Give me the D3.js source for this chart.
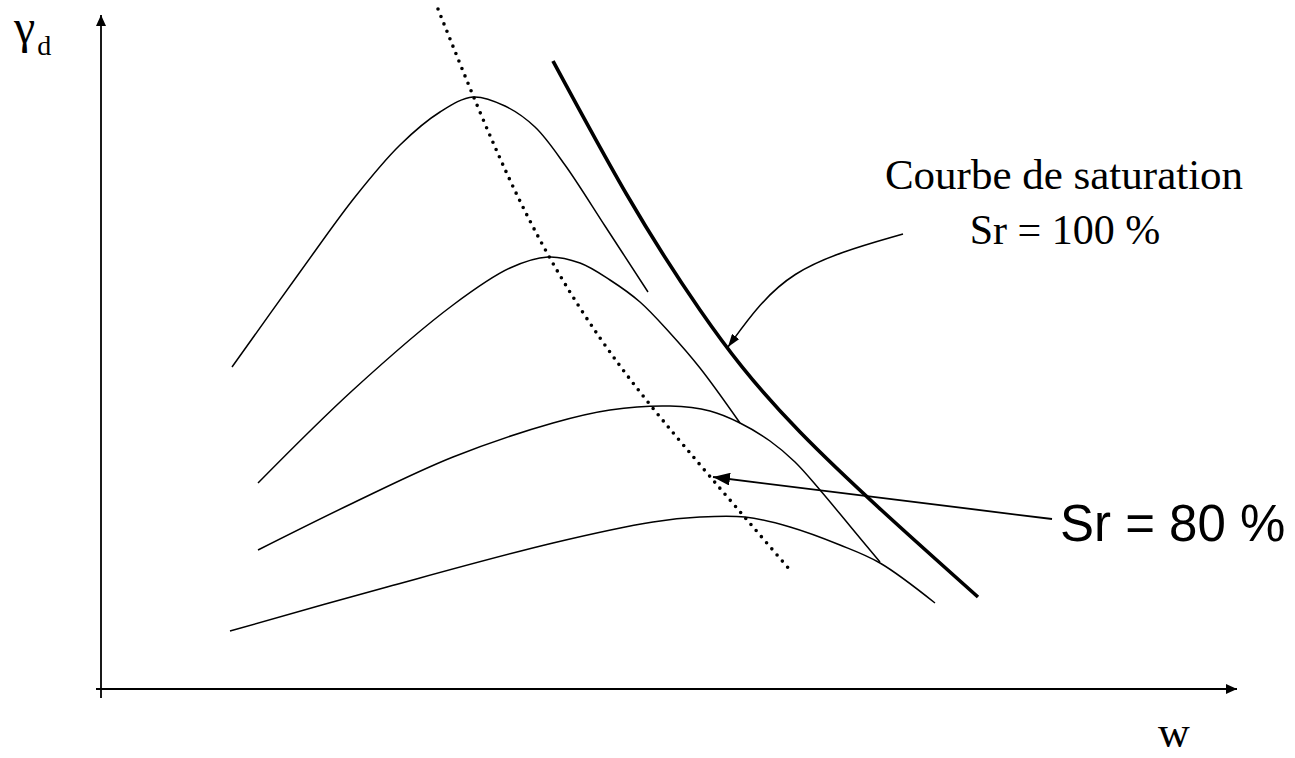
<!DOCTYPE html>
<html>
<head>
<meta charset="utf-8">
<script src="https://cdn.jsdelivr.net/npm/d3@7"></script>
<style>
  html, body { margin: 0; padding: 0; background: #fff; }
  svg { display: block; }
</style>
</head>
<body>
<script>
// ---- data (w = water content, gd = dry unit weight, arbitrary units) ----
const curve1W  = [13.1, 19.9, 25.4, 29.9, 33.9, 37.2, 40.4, 43.4, 46.4, 50.4, 54.7];
const curve1Gd = [32.2, 41.7, 49.2, 54.4, 57.7, 59.2, 58.3, 56.2, 52.4, 46.3, 39.7];

const curve2W  = [15.7, 25.2, 35.2, 40.9, 44.7, 47.9, 50.9, 53.9, 56.9, 59.9, 63.9];
const curve2Gd = [20.6, 29.9, 38.4, 42.1, 43.2, 42.6, 40.9, 38.7, 35.6, 32.1, 26.6];

const curve3W  = [15.7, 25.2, 35.2, 45.2, 50.9, 56.9, 60.9, 63.9, 66.9, 69.4, 71.9, 74.9, 77.9];
const curve3Gd = [13.9, 18.6, 23.2, 26.6, 27.9, 28.3, 27.8, 26.6, 24.8, 22.7, 19.9, 16.3, 12.7];

const curve4W  = [12.9, 28.6, 45.2, 55.2, 59.9, 64.4, 68.9, 73.9, 77.9, 83.4];
const curve4Gd = [5.8, 10.2, 14.6, 16.7, 17.2, 17.2, 16.2, 14.4, 12.6, 8.6];

const saturationW  = [45.2, 52.6, 59.9, 69.9, 87.7];
const saturationGd = [62.8, 49.4, 37.9, 25.7, 9.2];

const sr80W  = [33.7, 41.7, 49.9, 58.4, 68.9];
const sr80Gd = [68.0, 49.2, 35.1, 24.2, 11.9];

const satArrowW  = [80.2, 73.9, 69.2, 65.9, 62.7];
const satArrowGd = [45.5, 43.7, 41.6, 38.6, 34.2];

const sr80ArrowW  = [95.1, 61.2];
const sr80ArrowGd = [17.0, 21.2];

const labels = {
  yAxis: "γ", ySub: "d", xAxis: "w",
  sat1: "Courbe de saturation", sat2: "Sr = 100 %",
  sr80: "Sr = 80 %"
};

// ---- layout ----
const W = 1295, H = 758;
const svg = d3.select("body").append("svg").attr("width", W).attr("height", H);

const x = d3.scaleLinear().domain([0, 114]).range([101, 1241]);
const y = d3.scaleLinear().domain([0, 67.5]).range([689, 14]);

const defs = svg.append("defs");
function marker(id, len, wid) {
  defs.append("marker").attr("id", id)
    .attr("viewBox", `0 0 ${len} ${wid}`)
    .attr("refX", len).attr("refY", wid / 2)
    .attr("markerWidth", len).attr("markerHeight", wid)
    .attr("markerUnits", "userSpaceOnUse")
    .attr("orient", "auto")
    .append("path").attr("d", `M0,0 L${len},${wid/2} L0,${wid} Z`).attr("fill", "#000");
}
marker("axisArrow", 11, 10);
marker("bigArrow", 17, 13);
marker("smallArrow", 13, 9);

const zip = (a, b) => a.map((v, i) => [v, b[i]]);
const line = d3.line().x(d => x(d[0])).y(d => y(d[1])).curve(d3.curveCatmullRom.alpha(0.5));
const smooth = d3.line().x(d => x(d[0])).y(d => y(d[1])).curve(d3.curveNatural);

// axes
svg.append("line")
  .attr("x1", x(0)).attr("y1", y(0) + 9)
  .attr("x2", x(0)).attr("y2", y(67.5) + 1)
  .attr("stroke", "#000").attr("stroke-width", 1.8)
  .attr("marker-end", "url(#axisArrow)");
svg.append("line")
  .attr("x1", x(0) - 5).attr("y1", y(0))
  .attr("x2", x(113.6)).attr("y2", y(0))
  .attr("stroke", "#000").attr("stroke-width", 1.8)
  .attr("marker-end", "url(#axisArrow)");

// compaction curves
[[curve1W, curve1Gd], [curve2W, curve2Gd], [curve3W, curve3Gd], [curve4W, curve4Gd]].forEach(([a, b]) => {
  svg.append("path").attr("d", line(zip(a, b)))
    .attr("fill", "none").attr("stroke", "#000").attr("stroke-width", 1.5);
});

// saturation curve
svg.append("path").attr("d", smooth(zip(saturationW, saturationGd)))
  .attr("fill", "none").attr("stroke", "#000").attr("stroke-width", 3.6);

// Sr = 80 % dotted line
svg.append("path").attr("d", smooth(zip(sr80W, sr80Gd)))
  .attr("fill", "none").attr("stroke", "#000").attr("stroke-width", 3.6)
  .attr("stroke-linecap", "round").attr("stroke-dasharray", "0 8");

// annotation arrows
svg.append("path").attr("d", d3.line().x(d => x(d[0])).y(d => y(d[1])).curve(d3.curveBasis)(zip(satArrowW, satArrowGd)))
  .attr("fill", "none").attr("stroke", "#000").attr("stroke-width", 1.5)
  .attr("marker-end", "url(#smallArrow)");
svg.append("path").attr("d", d3.line().x(d => x(d[0])).y(d => y(d[1]))(zip(sr80ArrowW, sr80ArrowGd)))
  .attr("fill", "none").attr("stroke", "#000").attr("stroke-width", 1.8)
  .attr("marker-end", "url(#bigArrow)");

// labels
const serif = "'Liberation Serif', 'Times New Roman', serif";
const sans = "'Liberation Sans', Arial, sans-serif";
const yl = svg.append("text").attr("x", 14).attr("y", 43)
  .attr("font-family", serif).attr("font-size", 48);
yl.append("tspan").text(labels.yAxis);
yl.append("tspan").attr("font-size", 28).attr("dx", 2).attr("dy", 12).text(labels.ySub);

svg.append("text").attr("x", 1158).attr("y", 747)
  .attr("font-family", serif).attr("font-size", 44).text(labels.xAxis);

svg.append("text").attr("x", 1064).attr("y", 189).attr("text-anchor", "middle")
  .attr("font-family", serif).attr("font-size", 43).text(labels.sat1);
svg.append("text").attr("x", 1065).attr("y", 244).attr("text-anchor", "middle")
  .attr("font-family", serif).attr("font-size", 42).text(labels.sat2);

svg.append("text").attr("x", 1060).attr("y", 541)
  .attr("font-family", sans).attr("font-size", 51).text(labels.sr80);
</script>
</body>
</html>
